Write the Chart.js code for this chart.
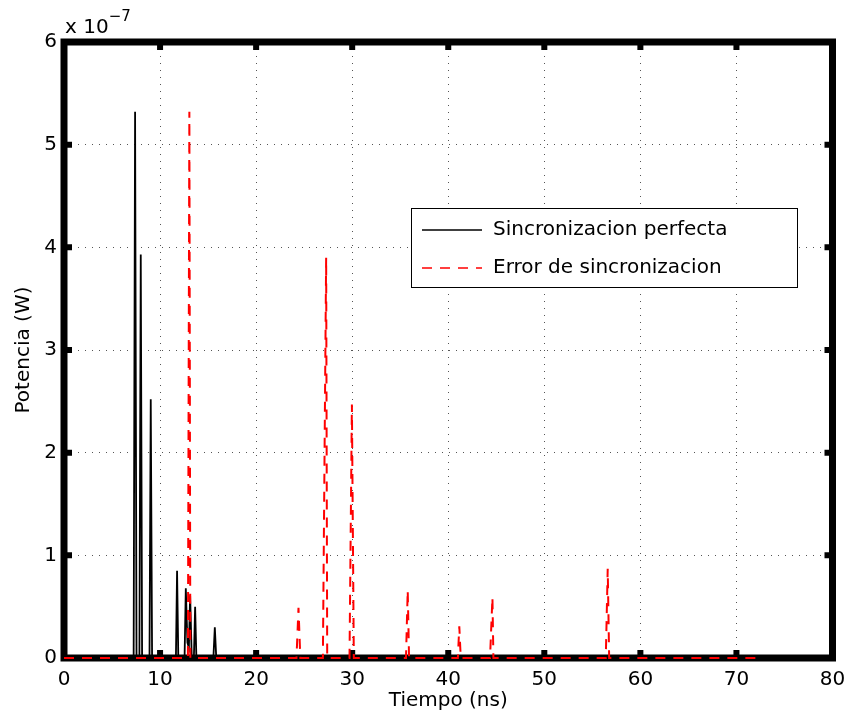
<!DOCTYPE html>
<html>
<head>
<meta charset="utf-8">
<script src="https://cdn.jsdelivr.net/npm/chart.js@4.4.0/dist/chart.umd.min.js"></script>
<style>body{margin:0;background:#fff}</style>
</head>
<body>
<canvas id="myChartPotencia" width="850" height="717"></canvas>
<script>
// tiempo en ns, potencia en W
const tiempoPerfecta = [0, 7.25, 7.40, 7.55, 7.85, 7.99, 8.13, 8.90, 9.03, 9.17, 11.65, 11.77, 11.90,
    12.55, 12.68, 12.85, 13.00, 13.13, 13.30, 13.52, 13.65, 13.78, 15.55, 15.70, 15.85, 72];
const potenciaPerfecta = [0, 0, 5.32e-7, 0, 0, 3.93e-7, 0, 0, 2.52e-7, 0, 0, 0.85e-7, 0,
    0, 0.68e-7, 0.15e-7, 0.10e-7, 0.61e-7, 0, 0, 0.50e-7, 0, 0, 0.30e-7, 0, 0];

const tiempoError = [0, 12.90, 13.05, 13.15, 24.20, 24.41, 24.60, 26.95, 27.29, 27.40,
    29.72, 29.97, 30.17, 35.60, 35.78, 35.92, 41.00, 41.15, 41.30, 44.35, 44.60, 44.70,
    56.40, 56.60, 56.75, 72];
const potenciaError = [0, 0, 5.32e-7, 0, 0, 0.49e-7, 0, 0, 3.90e-7, 0,
    0, 2.47e-7, 0, 0, 0.66e-7, 0, 0, 0.31e-7, 0, 0, 0.59e-7, 0,
    0, 0.87e-7, 0, 0];

const xTicks = [0, 10, 20, 30, 40, 50, 60, 70, 80];
const yTicks = [0, 1, 2, 3, 4, 5, 6]; // x 10^-7
const yExponent = -7;

const seriesNames = ['Sincronizacion perfecta', 'Error de sincronizacion'];

const FONT = 'DejaVu Sans';

// marco grueso, marcas hacia dentro, etiqueta del exponente y leyenda
const matlabAxes = {
    id: 'matlabAxes',
    beforeDatasetsDraw(chart) {
        const { ctx, chartArea: a, scales } = chart;
        ctx.save();
        ctx.strokeStyle = '#000';
        ctx.lineWidth = 7;
        ctx.strokeRect(a.left, a.top, a.right - a.left, a.bottom - a.top);
        ctx.lineWidth = 6;
        ctx.beginPath();
        xTicks.slice(1, -1).forEach(v => {
            const px = scales.x.getPixelForValue(v);
            ctx.moveTo(px, a.bottom); ctx.lineTo(px, a.bottom - 8);
            ctx.moveTo(px, a.top); ctx.lineTo(px, a.top + 8);
        });
        yTicks.slice(1, -1).forEach(v => {
            const py = scales.y.getPixelForValue(v * Math.pow(10, yExponent));
            ctx.moveTo(a.left, py); ctx.lineTo(a.left + 8, py);
            ctx.moveTo(a.right, py); ctx.lineTo(a.right - 8, py);
        });
        ctx.stroke();
        ctx.restore();
    },
    afterDatasetsDraw(chart) {
        const { ctx, chartArea: a } = chart;
        ctx.save();
        // x 10^-7
        ctx.fillStyle = '#000';
        ctx.textBaseline = 'alphabetic';
        ctx.textAlign = 'left';
        ctx.font = '20px "' + FONT + '"';
        ctx.fillText('x 10', a.left + 1, 33);
        const w = ctx.measureText('x 10').width;
        ctx.font = '15px "' + FONT + '"';
        ctx.fillText('\u2212' + Math.abs(yExponent), a.left + 1 + w, 21);

        // leyenda
        const bx = 411, by = 208, bw = 386, bh = 79;
        ctx.fillStyle = '#fff';
        ctx.fillRect(bx, by, bw, bh);
        ctx.strokeStyle = '#000';
        ctx.lineWidth = 1;
        ctx.strokeRect(bx + 0.5, by + 0.5, bw, bh);
        const rows = [by + 22, by + 60];
        chart.data.datasets.forEach((ds, i) => {
            ctx.strokeStyle = ds.borderColor;
            ctx.lineWidth = 1.5;
            ctx.setLineDash(ds.borderDash || []);
            ctx.beginPath();
            ctx.moveTo(422, rows[i]);
            ctx.lineTo(482, rows[i]);
            ctx.stroke();
            ctx.setLineDash([]);
            ctx.fillStyle = '#000';
            ctx.textBaseline = 'middle';
            ctx.font = '20px "' + FONT + '"';
            ctx.fillText(ds.label, 493, rows[i]);
        });
        ctx.restore();
    }
};

const ctx = document.getElementById('myChartPotencia').getContext('2d');
const chart = new Chart(ctx, {
    type: 'line',
    data: {
        datasets: [{
            label: seriesNames[0],
            data: tiempoPerfecta.map((t, i) => ({ x: t, y: potenciaPerfecta[i] })),
            borderColor: '#000000',
            borderWidth: 1.8,
            pointRadius: 0,
            tension: 0,
            fill: false,
            clip: false,
            order: 1
        }, {
            label: seriesNames[1],
            data: tiempoError.map((t, i) => ({ x: t, y: potenciaError[i] })),
            borderColor: '#ff0000',
            borderWidth: 2,
            borderDash: [10, 8],
            pointRadius: 0,
            tension: 0,
            fill: false,
            clip: false,
            order: 0
        }]
    },
    options: {
        responsive: false,
        devicePixelRatio: 1,
        animation: false,
        layout: { padding: { top: 42, right: 17.5, left: 0, bottom: 0 } },
        plugins: { legend: { display: false }, tooltip: { enabled: false } },
        scales: {
            x: {
                type: 'linear',
                min: 0,
                max: 80,
                afterBuildTicks: s => { s.ticks = xTicks.map(v => ({ value: v })); },
                afterFit: s => { s.height = 59; s.paddingLeft = 0; s.paddingRight = 0; },
                ticks: { color: '#000', font: { family: FONT, size: 20 }, padding: 10, maxRotation: 0 },
                grid: { color: '#555', lineWidth: 1, drawTicks: false },
                border: { display: false, dash: [1, 6] },
                title: { display: true, text: 'Tiempo (ns)', color: '#000', font: { family: FONT, size: 20 }, padding: { top: 4 } }
            },
            y: {
                type: 'linear',
                min: 0,
                max: 6e-7,
                afterBuildTicks: s => { s.ticks = yTicks.map(v => ({ value: v * Math.pow(10, yExponent) })); },
                afterFit: s => { s.width = 64; },
                ticks: {
                    color: '#000', font: { family: FONT, size: 20 }, padding: 7,
                    callback: v => String(Math.round(v / Math.pow(10, yExponent)))
                },
                grid: { color: '#555', lineWidth: 1, drawTicks: false },
                border: { display: false, dash: [1, 6] },
                title: { display: true, text: 'Potencia (W)', color: '#000', font: { family: FONT, size: 20 }, padding: { top: 12 } }
            }
        }
    },
    plugins: [matlabAxes]
});
</script>
</body>
</html>
